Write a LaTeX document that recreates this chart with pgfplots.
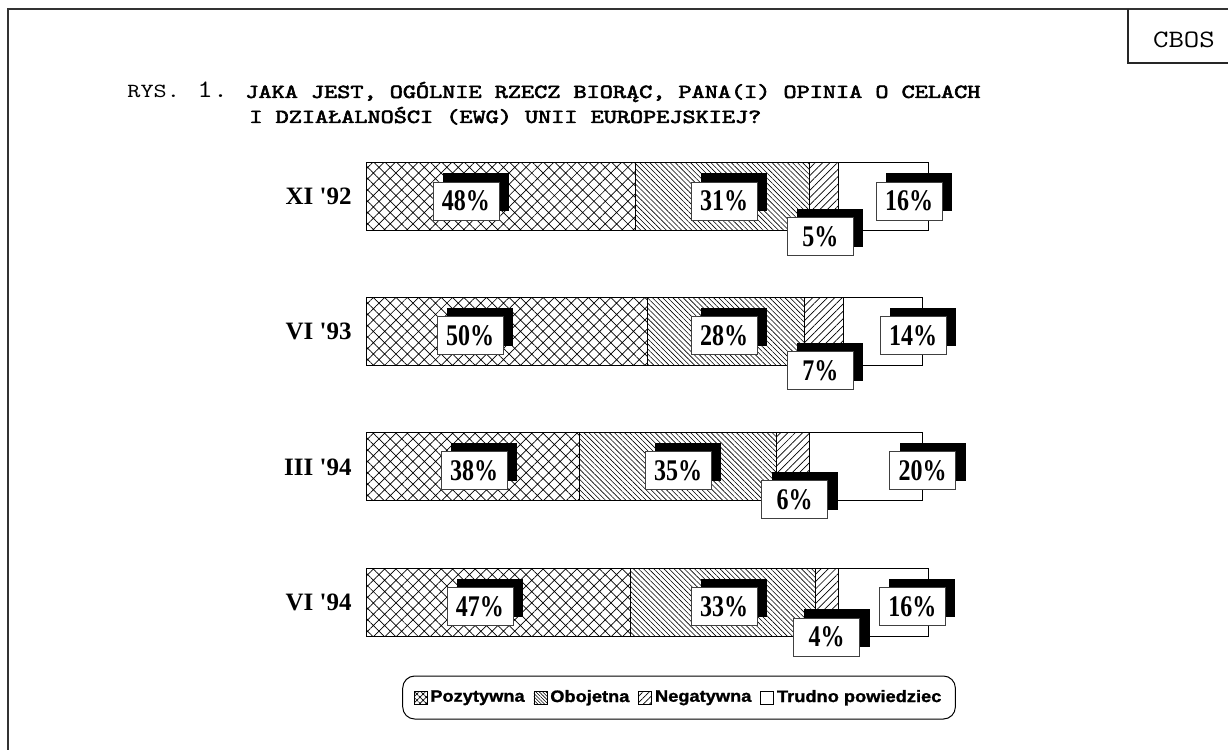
\documentclass[border=0pt]{standalone}
\usepackage{pgfplots}
\pgfplotsset{compat=1.18}
\usepackage{graphicx}
\usepackage{fontspec}
\setmainfont{Liberation Serif}
\newfontfamily\sans[BoldFeatures={FakeBold=1.2}]{Liberation Sans}
\newfontfamily\mono[BoldFont={Latin Modern Mono}, BoldFeatures={FakeBold=2.5}]{Latin Modern Mono}
\usetikzlibrary{patterns.meta,shadows}

\tikzset{
  lab/.style={draw=black!75, line width=0.4bp, fill=white,
    minimum width=33bp, minimum height=19bp, inner sep=0pt,
    general shadow={fill=black, draw=none, shadow xshift=5bp, shadow yshift=4.5bp}},
}
\newcommand{\pc}[1]{{\fontsize{15bp}{15bp}\selectfont\bfseries\scalebox{0.8}[1]{#1\%}}}
\newcommand{\legtxt}[1]{\scalebox{1.1}[1]{#1}}
\newcommand{\tit}[1]{\scalebox{1.25}[1]{\mono\fontsize{10bp}{10bp}\selectfont #1}}

\begin{document}
\begin{tikzpicture}
\path[use as bounding box] (0,0) rectangle (614bp,-375bp);
\begin{scope}[x=0.5bp,y=-0.5bp]
  \draw[line width=0.6bp, black!80] (8,750) -- (8,9) -- (1228,9);
  \draw[line width=0.6bp, black!85] (1128,9) -- (1128,63) -- (1228,63);
  \node[anchor=base, inner sep=0] at (1184,47) {\scalebox{1.2}[1]{\mono\fontsize{12.5bp}{12.5bp}\selectfont CBOS}};
  \node[anchor=base west, inner sep=0] at (127,98) {\tit{RYS.}};
  \node[anchor=base west, inner sep=0] at (197,98) {\scalebox{1.2}[1]{\mono\fontsize{12.5bp}{12.5bp}\selectfont 1.}};
  \node[anchor=base west, inner sep=0] at (245,98) {\tit{\bfseries JAKA JEST, OGÓLNIE RZECZ BIORĄC, PANA(I) OPINIA O CELACH}};
  \node[anchor=base west, inner sep=0] at (249,123) {\tit{\bfseries I DZIAŁALNOŚCI (EWG) UNII EUROPEJSKIEJ?}};
\end{scope}

\begin{axis}[
  at={(183bp,-64.45bp)}, anchor=north west,
  scale only axis, width=281bp, height=270.35bp,
  xbar stacked, bar width=34bp,
  xmin=0, xmax=100, ymin=-0.5, ymax=3.5, y dir=reverse,
  axis line style={draw=none}, xtick=\empty,
  ytick={0,1,2,3},
  yticklabels={XI \textquotesingle92, VI \textquotesingle93, III \textquotesingle94, VI \textquotesingle94},
  major tick length=0pt,
  y tick label style={inner sep=0pt, font=\fontsize{12.5bp}{12.5bp}\selectfont\bfseries},
  yticklabel shift=7bp,
  clip=false,
  legend columns=4,
  legend cell align=left,
  legend style={at={(0.557,-0.0516)}, anchor=center, draw=black, line width=0.5bp,
    rounded corners=6bp, inner xsep=5.5bp, inner ysep=5.5bp,
    font=\sans\fontsize{8.3bp}{9bp}\selectfont\bfseries,
    nodes={inner sep=1.5bp},
    /tikz/every even column/.append style={column sep=3bp}},
]
\addplot[draw=black, line width=0.5bp, pattern={Hatch[angle=45,distance=4bp,line width=0.35bp]},
  legend image code/.code={\draw[sharp corners, line width=0.3bp, pattern={Hatch[angle=45,distance=2.2bp,line width=0.3bp]}] (0bp,-3.25bp) rectangle (6.5bp,3.25bp);}]
  coordinates {(48,0) (50,1) (38,2) (47,3)};
\addlegendentry{\legtxt{Pozytywna}}
\addplot[draw=black, line width=0.5bp, pattern={Lines[angle=-45,distance=1.8bp,line width=0.3bp]},
  legend image code/.code={\draw[sharp corners, line width=0.3bp, pattern={Lines[angle=-45,distance=1.2bp,line width=0.3bp]}] (0bp,-3.25bp) rectangle (6.5bp,3.25bp);}]
  coordinates {(31,0) (28,1) (35,2) (33,3)};
\addlegendentry{\legtxt{Obojetna}}
\addplot[draw=black, line width=0.5bp, pattern={Lines[angle=45,distance=2.6bp,line width=0.35bp]},
  legend image code/.code={\draw[sharp corners, line width=0.3bp, pattern={Lines[angle=45,distance=2.2bp,line width=0.3bp]}] (0bp,-3.25bp) rectangle (6.5bp,3.25bp);}]
  coordinates {(5,0) (7,1) (6,2) (4,3)};
\addlegendentry{\legtxt{Negatywna}}
\addplot[draw=black, line width=0.5bp, fill=white,
  legend image code/.code={\draw[sharp corners, line width=0.3bp, fill=white] (0bp,-3.25bp) rectangle (6.5bp,3.25bp);}]
  coordinates {(16,0) (14,1) (20,2) (16,3)};
\addlegendentry{\legtxt{Trudno powiedziec}}

\coordinate (a1) at (axis cs:17.79,0.033);
\coordinate (a2) at (axis cs:63.70,0.033);
\coordinate (a3) at (axis cs:80.87,0.296);
\coordinate (a4) at (axis cs:96.62,0.033);
\coordinate (b1) at (axis cs:18.51,1.030);
\coordinate (b2) at (axis cs:63.70,1.030);
\coordinate (b3) at (axis cs:80.87,1.288);
\coordinate (b4) at (axis cs:97.33,1.030);
\coordinate (c1) at (axis cs:19.22,2.030);
\coordinate (c2) at (axis cs:55.52,2.030);
\coordinate (c3) at (axis cs:76.25,2.244);
\coordinate (c4) at (axis cs:99.02,2.030);
\coordinate (d1) at (axis cs:20.28,3.035);
\coordinate (d2) at (axis cs:63.70,3.035);
\coordinate (d3) at (axis cs:81.94,3.259);
\coordinate (d4) at (axis cs:97.24,3.035);
\end{axis}

\node[lab] at (a1) {\pc{48}};
\node[lab] at (a2) {\pc{31}};
\node[lab] at (a3) {\pc{5}};
\node[lab] at (a4) {\pc{16}};
\node[lab] at (b1) {\pc{50}};
\node[lab] at (b2) {\pc{28}};
\node[lab] at (b3) {\pc{7}};
\node[lab] at (b4) {\pc{14}};
\node[lab] at (c1) {\pc{38}};
\node[lab] at (c2) {\pc{35}};
\node[lab] at (c3) {\pc{6}};
\node[lab] at (c4) {\pc{20}};
\node[lab] at (d1) {\pc{47}};
\node[lab] at (d2) {\pc{33}};
\node[lab] at (d3) {\pc{4}};
\node[lab] at (d4) {\pc{16}};
\end{tikzpicture}
\end{document}
